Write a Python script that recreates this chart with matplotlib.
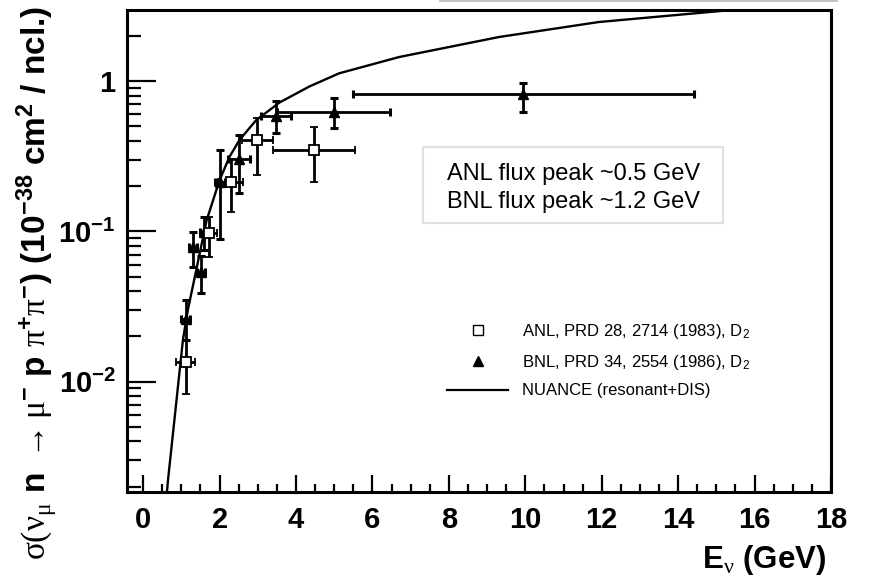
import matplotlib
matplotlib.use("Agg")
import matplotlib.pyplot as plt
from matplotlib.lines import Line2D
from matplotlib.patches import Rectangle
import numpy as np

plt.rcParams['font.family'] = ['Liberation Sans', 'DejaVu Sans']
plt.rcParams['mathtext.fontset'] = 'custom'
plt.rcParams['mathtext.rm'] = 'Liberation Serif'
plt.rcParams['mathtext.it'] = 'Liberation Sans:italic'
plt.rcParams['mathtext.bf'] = 'Liberation Sans:bold'
plt.rcParams['mathtext.default'] = 'regular'

# ---------------- data ----------------
anl_E = [1.11, 1.72, 2.29, 2.99, 4.47]
anl_sigma = [0.0135, 0.098, 0.213, 0.405, 0.35]
anl_xerr = [0.26, 0.22, 0.33, 0.41, 1.07]
anl_ylo = [0.0083, 0.067, 0.135, 0.236, 0.213]
anl_yhi = [0.0188, 0.125, 0.305, 0.567, 0.496]

bnl_E = [1.11, 1.31, 1.51, 1.59, 2.00, 2.51, 3.48, 4.99, 9.95]
bnl_sigma = [0.0262, 0.0786, 0.0535, 0.099, 0.213, 0.305, 0.585, 0.624, 0.815]
bnl_xerr = [0.12, 0.10, 0.10, 0.10, 0.13, 0.28, 0.39, 1.48, 4.47]
bnl_ylo = [0.0188, 0.058, 0.039, 0.075, 0.089, 0.179, 0.45, 0.484, 0.624]
bnl_yhi = [0.035, 0.099, 0.069, 0.125, 0.347, 0.437, 0.739, 0.767, 0.965]

nuance_E = [0.62, 0.65, 1.04, 1.17, 1.30, 1.66, 2.00, 2.26, 2.52, 2.96, 3.57,
            4.35, 5.13, 6.70, 9.31, 11.92, 15.4]
nuance_sigma = [0.0018, 0.0022, 0.0188, 0.030, 0.043, 0.118, 0.219, 0.313,
                0.405, 0.55, 0.72, 0.92, 1.126, 1.445, 1.963, 2.47, 2.97]

xticks = [0, 2, 4, 6, 8, 10, 12, 14, 16, 18]
yticks = [0.01, 0.1, 1]
ytick_labels = [r'$10^{-2}$', r'$10^{-1}$', '1']

legend_labels = [r'ANL, PRD 28, 2714 (1983), D$_{2}$',
                 r'BNL, PRD 34, 2554 (1986), D$_{2}$',
                 'NUANCE (resonant+DIS)']
note_text = 'ANL flux peak ~0.5 GeV\nBNL flux peak ~1.2 GeV'

# ---------------- figure ----------------
fig = plt.figure(figsize=(8.69, 5.82), dpi=100)
ax = fig.add_axes([0.1458, 0.1552, 0.8105, 0.8276])

ax.set_yscale('log')
ax.set_xlim(-0.43, 18.0)
ax.set_ylim(0.00185, 2.97)

ax.plot(nuance_E, nuance_sigma, color='black', lw=1.7, zorder=2)

anl_yerr = [np.array(anl_sigma) - np.array(anl_ylo), np.array(anl_yhi) - np.array(anl_sigma)]
bnl_yerr = [np.array(bnl_sigma) - np.array(bnl_ylo), np.array(bnl_yhi) - np.array(bnl_sigma)]

ax.errorbar(bnl_E, bnl_sigma, xerr=bnl_xerr, yerr=bnl_yerr, fmt='^', color='black',
            ms=7.5, elinewidth=2.0, capsize=3, capthick=2.2, zorder=3)
ax.errorbar(anl_E, anl_sigma, xerr=anl_xerr, yerr=anl_yerr, fmt='s', color='black',
            mfc='white', mec='black', mew=1.3, ms=7.5, elinewidth=2.0, capsize=3,
            capthick=2.2, zorder=4)

for sp in ax.spines.values():
    sp.set_linewidth(2.2)

ax.set_xticks(xticks)
ax.set_xticklabels([str(t) for t in xticks])
ax.set_xticks(np.arange(0, 18.01, 0.5), minor=True)
ax.set_yticks(yticks)
ax.set_yticklabels(ytick_labels)
ax.tick_params(which='both', direction='in', top=False, right=False)
ax.tick_params(axis='x', which='major', length=12, width=1.6, pad=10, labelsize=21)
ax.tick_params(axis='x', which='minor', length=6, width=1.6)
ax.tick_params(axis='y', which='major', length=21, width=1.6, pad=8, labelsize=21)
ax.tick_params(axis='y', which='minor', length=10, width=1.6)
for lab in ax.get_xticklabels() + ax.get_yticklabels():
    lab.set_fontweight('bold')

ax.set_xlabel(r'E$_{\mathrm{\nu}}$ (GeV)', fontsize=22.5, fontweight='bold', ha='right', va='center')
ax.xaxis.set_label_coords(0.993, -0.142)
ax.set_ylabel(r'$\mathrm{\sigma(\nu}_{\mathrm{\mu}}$ n $\mathrm{\rightarrow\mu}^{-}$ p $\mathrm{\pi}^{+}\mathrm{\pi}^{-}$) (10$^{-38}$ cm$^{2}$ / ncl.)',
              fontsize=24, fontweight='bold', ha='right', va='center')
ax.yaxis.set_label_coords(-0.126, 1.01)

# annotation box
ax.add_patch(Rectangle((0.4207, 0.5578), 0.426, 0.1578, transform=ax.transAxes,
                       facecolor='white', edgecolor='#e0e0e0', lw=1.5, zorder=5))
ax.text(0.634, 0.6307, note_text, transform=ax.transAxes, ha='center', va='center',
        fontsize=17, linespacing=1.33, zorder=6)

handles = [Line2D([], [], marker='s', ls='none', mfc='white', mec='black', mew=1.0, ms=7),
           Line2D([], [], marker='^', ls='none', color='black', ms=7),
           Line2D([], [], color='black', lw=1.6)]
ax.legend(handles, legend_labels, loc='upper left', bbox_to_anchor=(0.4544, 0.352),
          frameon=False, fontsize=12, handlelength=3.7, handletextpad=0.8,
          labelspacing=0.7, borderpad=0, borderaxespad=0)

# cut-off grey frame edge at the very top
fig.add_artist(Line2D([440 / 869, 837 / 869], [1 - 0.8 / 582, 1 - 0.8 / 582],
                      color='#b5b5b5', lw=1.2, transform=fig.transFigure))

fig.savefig('out.png', dpi=100)
